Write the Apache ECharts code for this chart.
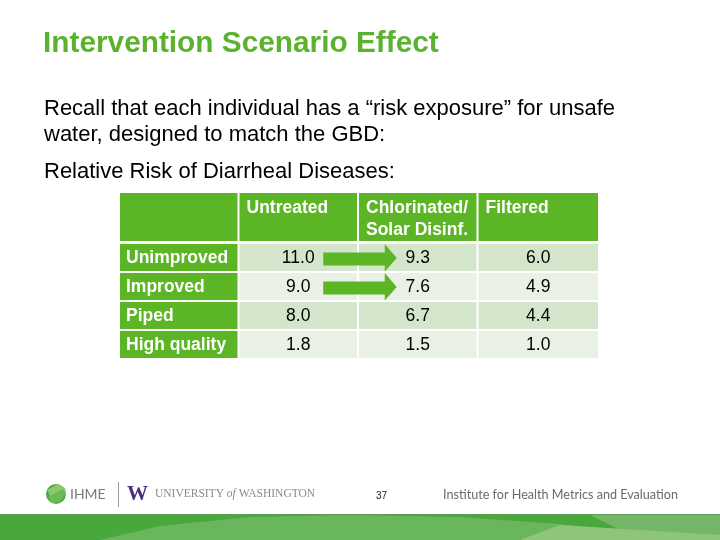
<!DOCTYPE html>
<html>
<head>
<meta charset="utf-8">
<script src="https://cdn.jsdelivr.net/npm/echarts@6/dist/echarts.min.js"></script>
<style>html,body{margin:0;padding:0;background:#fff}#c{width:720px;height:540px}</style>
</head>
<body>
<div id="c"></div>
<script>
// ---- data ----
const rowLabels = ['Unimproved', 'Improved', 'Piped', 'High quality'];
const colLabels = ['Untreated', 'Chlorinated/\nSolar Disinf.', 'Filtered'];
const untreated = [11.0, 9.0, 8.0, 1.8];
const chlorinated = [9.3, 7.6, 6.7, 1.5];
const filtered = [6.0, 4.9, 4.4, 1.0];
const arrowRows = ['Unimproved', 'Improved'];

// ---- layout / style ----
const GREEN = '#5cb524';
const LIGHT1 = '#d3e6cb';
const LIGHT2 = '#e9f1e5';
const FONT = '"Liberation Sans", Arial, sans-serif';

function rowSpan(r) {
  if (r === 0) return [0, 48];
  const t = 51 + (r - 1) * 29;
  return [t, t + 27];
}

const seriesCols = [untreated, chlorinated, filtered];
const cells = [];
cells.push([0, 0, '', 'corner']);
colLabels.forEach((l, i) => cells.push([i + 1, 0, l, 'head']));
rowLabels.forEach((l, r) => {
  cells.push([0, r + 1, l, 'rowlabel']);
  seriesCols.forEach((vals, i) => cells.push([i + 1, r + 1, vals[r].toFixed(1), 'value']));
});
const arrowData = arrowRows.map(n => [rowLabels.indexOf(n) + 1]);

const chart = echarts.init(document.getElementById('c'));
chart.setOption({
  animation: false,
  backgroundColor: '#fff',
  title: {
    text: 'Intervention Scenario Effect',
    left: 43, top: 29, padding: 0,
    textStyle: { fontFamily: FONT, fontSize: 29.8, fontWeight: 'bold', color: '#5bb22e' }
  },
  grid: { left: 120, top: 193, width: 478, height: 166 },
  xAxis: { type: 'value', min: 0, max: 4, show: false },
  yAxis: { type: 'value', min: 0, max: 166, inverse: true, show: false },
  graphic: [
    { type: 'text', left: 44, top: 96, silent: true,
      style: { text: 'Recall that each individual has a \u201crisk exposure\u201d for unsafe\nwater, designed to match the GBD:', font: '22px ' + FONT, fill: '#000', lineHeight: 26 } },
    { type: 'text', left: 44, top: 159, silent: true,
      style: { text: 'Relative Risk of Diarrheal Diseases:', font: '22px ' + FONT, fill: '#000', lineHeight: 26 } },
    // footer: IHME logo
    { type: 'circle', shape: { cx: 56, cy: 494, r: 10 }, style: { fill: '#4aa843' }, silent: true },
    { type: 'polygon', shape: { points: [[47, 490], [58, 484], [65, 488], [66, 494], [52, 500]] }, style: { fill: '#8cc96e' }, silent: true },
    { type: 'polygon', shape: { points: [[48, 497], [63, 489], [66, 494], [60, 502], [52, 503]] }, style: { fill: '#6bbb55' }, silent: true },
    { type: 'text', left: 70, top: 487, silent: true,
      style: { text: 'IHME', font: '14px "Lato", ' + FONT, fill: '#7a7a7a' } },
    { type: 'line', shape: { x1: 118.5, y1: 482, x2: 118.5, y2: 507 }, style: { stroke: '#9a9a9a', lineWidth: 1 }, silent: true },
    { type: 'text', left: 127, top: 484, silent: true,
      style: { text: 'W', font: 'bold 21px "Liberation Serif", serif', fill: '#4b2e83' } },
    { type: 'text', left: 155, top: 488, silent: true,
      style: { text: '{a|UNIVERSITY }{b|of}{a| WASHINGTON}', fill: '#8a8a8a', rich: {
        a: { fontFamily: '"Liberation Serif", serif', fontSize: 11.5, fill: '#8a8a8a' },
        b: { fontFamily: '"Liberation Serif", serif', fontSize: 11.5, fontStyle: 'italic', fill: '#8a8a8a' } } } },
    { type: 'text', left: 376, top: 491, silent: true,
      style: { text: '37', font: '10px ' + FONT, fill: '#222' } },
    { type: 'text', left: 443, top: 488, silent: true,
      style: { text: 'Institute for Health Metrics and Evaluation', font: '12.6px "Lato", ' + FONT, fill: '#6a6a6a' } },
    // bottom band
    { type: 'rect', shape: { x: 0, y: 514, width: 720, height: 26 }, style: { fill: '#49a83c' }, silent: true },
    { type: 'rect', shape: { x: 0, y: 514, width: 720, height: 1 }, style: { fill: '#5d9e53' }, silent: true },
    { type: 'polygon', shape: { points: [[100, 540], [160, 526], [250, 517], [350, 515], [460, 517], [560, 524], [620, 532], [640, 540]] }, style: { fill: '#6ab65d' }, silent: true },
    { type: 'polygon', shape: { points: [[590, 515], [720, 515], [720, 540], [640, 540]] }, style: { fill: '#74b667' }, silent: true },
    { type: 'polygon', shape: { points: [[520, 540], [560, 525], [720, 535], [720, 540]] }, style: { fill: '#8ec47c' }, silent: true }
  ],
  series: [
    {
      type: 'custom',
      silent: true,
      data: cells,
      encode: { x: 0, y: 1 },
      renderItem: function (params, api) {
        const c = api.value(0), r = api.value(1);
        const d = cells[params.dataIndex];
        const text = d[2], kind = d[3];
        const sp = rowSpan(r);
        const p0 = api.coord([c, sp[0]]);
        const p1 = api.coord([c + 1, sp[1]]);
        const w = p1[0] - p0[0] - (c < 3 ? 2 : 0);
        const h = p1[1] - p0[1];
        let fill = GREEN;
        if (kind === 'value') fill = (r % 2 === 1) ? LIGHT1 : LIGHT2;
        const children = [{ type: 'rect', shape: { x: p0[0], y: p0[1], width: w, height: h }, style: { fill: fill } }];
        if (kind === 'head') {
          children.push({ type: 'text', style: { x: p0[0] + 7, y: p0[1] + 4, text: text, font: 'bold 17.5px ' + FONT, fill: '#fff', lineHeight: 22, verticalAlign: 'top', align: 'left' } });
        } else if (kind === 'rowlabel') {
          children.push({ type: 'text', style: { x: p0[0] + 6, y: p0[1] + h / 2 + 1, text: text, font: 'bold 17.5px ' + FONT, fill: '#fff', verticalAlign: 'middle', align: 'left' } });
        } else if (kind === 'value') {
          children.push({ type: 'text', style: { x: p0[0] + w / 2, y: p0[1] + h / 2 + 1, text: text, font: '17.5px ' + FONT, fill: '#000', verticalAlign: 'middle', align: 'center' } });
        }
        return { type: 'group', children: children };
      },
      z: 2
    },
    {
      type: 'custom',
      silent: true,
      data: arrowData,
      encode: { y: 0 },
      renderItem: function (params, api) {
        const r = api.value(0);
        const sp = rowSpan(r);
        const cy = api.coord([0, (sp[0] + sp[1]) / 2])[1];
        const x0 = api.coord([1.5, 0])[0] + 24;
        const tip = api.coord([2.5, 0])[0] - 22;
        const hb = tip - 12;
        const by = cy + 1.5;
        return {
          type: 'polygon',
          shape: { points: [[x0, by - 6.5], [hb, by - 6.5], [hb, cy - 13.5], [tip, cy + 0.5], [hb, cy + 14], [hb, by + 6.5], [x0, by + 6.5]] },
          style: { fill: GREEN }
        };
      },
      z: 3
    }
  ]
});
</script>
</body>
</html>
